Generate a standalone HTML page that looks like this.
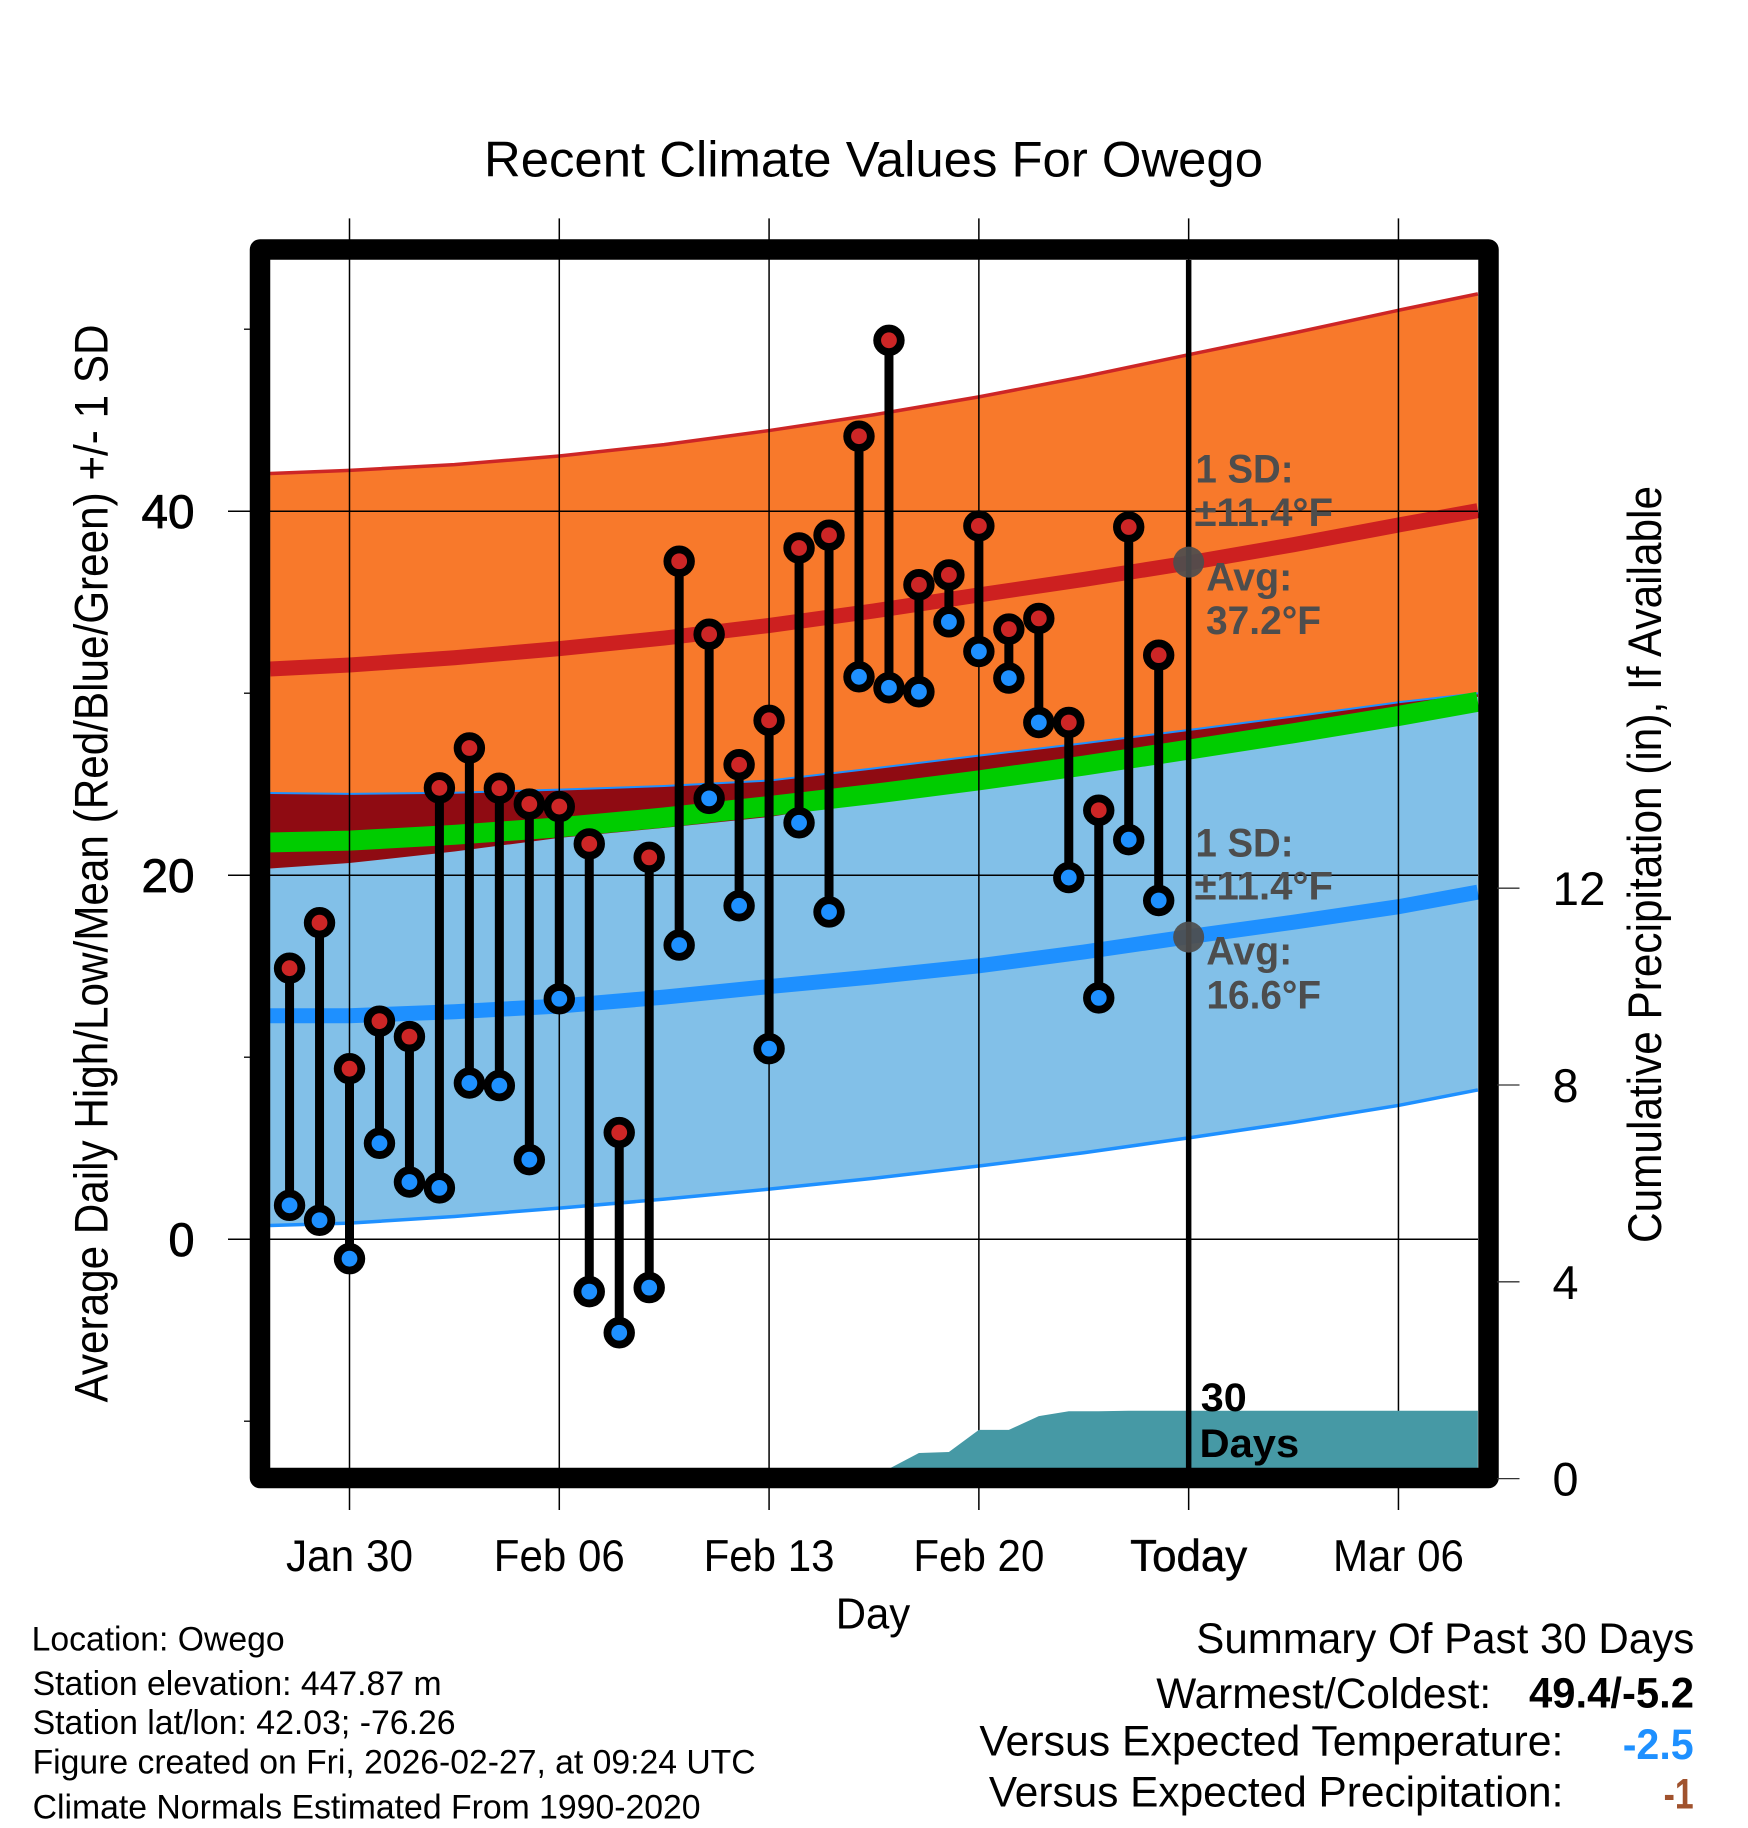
<!DOCTYPE html>
<html lang="en">
<head>
<meta charset="utf-8">
<title>Recent Climate Values For Owego</title>
<style>
html,body{margin:0;padding:0;background:#fff;}
svg{display:block;}
text{font-family:"Liberation Sans",Arial,sans-serif;fill:#000;}
.b{font-weight:bold;}
.g{font-weight:bold;fill:#4d4d4d;font-size:40px;}
</style>
</head>
<body>
<svg id="chart" xmlns="http://www.w3.org/2000/svg" width="1748" height="1828" viewBox="0 0 1748 1828">
  <rect width="1748" height="1828" fill="#fff"/>
  <g id="fills"></g>
  <g id="grid"></g>
  <g id="precip"></g>
  <g id="obs"></g>
  <g id="today"></g>
  <rect x="260" y="249.5" width="1228.5" height="1228.5" fill="none" stroke="#000" stroke-width="20.5" stroke-linejoin="round"/>
  <g id="axes"></g>

  <text x="873.5" y="176.5" text-anchor="middle" font-size="50" textLength="779" lengthAdjust="spacingAndGlyphs">Recent Climate Values For Owego</text>
  <text transform="translate(107.6,863.5) rotate(-90)" text-anchor="middle" font-size="47" textLength="1078" lengthAdjust="spacingAndGlyphs">Average Daily High/Low/Mean (Red/Blue/Green) +/- 1 SD</text>
  <text transform="translate(1661,864.5) rotate(-90)" text-anchor="middle" font-size="47" textLength="757" lengthAdjust="spacingAndGlyphs">Cumulative Precipitation (in), If Available</text>
  <text x="873" y="1628.5" text-anchor="middle" font-size="44" textLength="74.5" lengthAdjust="spacingAndGlyphs">Day</text>

  <text class="g" x="1195.5" y="482.7" textLength="98" lengthAdjust="spacingAndGlyphs">1 SD:</text>
  <text class="g" x="1194.5" y="526" textLength="138.5" lengthAdjust="spacingAndGlyphs">±11.4°F</text>
  <text class="g" x="1206.3" y="590.5" textLength="86" lengthAdjust="spacingAndGlyphs">Avg:</text>
  <text class="g" x="1206" y="634" textLength="115" lengthAdjust="spacingAndGlyphs">37.2°F</text>
  <text class="g" x="1195.5" y="856.7" textLength="98" lengthAdjust="spacingAndGlyphs">1 SD:</text>
  <text class="g" x="1194.5" y="899.4" textLength="138.5" lengthAdjust="spacingAndGlyphs">±11.4°F</text>
  <text class="g" x="1206.3" y="964.5" textLength="86" lengthAdjust="spacingAndGlyphs">Avg:</text>
  <text class="g" x="1206.5" y="1008.4" textLength="114.5" lengthAdjust="spacingAndGlyphs">16.6°F</text>
  <text class="b" x="1200.8" y="1410.8" font-size="40" textLength="46" lengthAdjust="spacingAndGlyphs">30</text>
  <text class="b" x="1199.5" y="1457" font-size="40" textLength="99.7" lengthAdjust="spacingAndGlyphs">Days</text>

  <g font-size="34">
    <text x="31.6" y="1650.7" textLength="253" lengthAdjust="spacingAndGlyphs">Location: Owego</text>
    <text x="32.6" y="1695" textLength="409" lengthAdjust="spacingAndGlyphs">Station elevation: 447.87 m</text>
    <text x="32.6" y="1734" textLength="423" lengthAdjust="spacingAndGlyphs">Station lat/lon: 42.03; -76.26</text>
    <text x="32.6" y="1773.3" textLength="723" lengthAdjust="spacingAndGlyphs">Figure created on Fri, 2026-02-27, at 09:24 UTC</text>
    <text x="32.6" y="1818.3" textLength="668" lengthAdjust="spacingAndGlyphs">Climate Normals Estimated From 1990-2020</text>
  </g>
  <g font-size="43">
    <text x="1196.3" y="1653" textLength="498" lengthAdjust="spacingAndGlyphs">Summary Of Past 30 Days</text>
    <text x="1156.2" y="1708" textLength="335" lengthAdjust="spacingAndGlyphs">Warmest/Coldest:</text>
    <text class="b" x="1529" y="1707.5" textLength="165" lengthAdjust="spacingAndGlyphs">49.4/-5.2</text>
    <text x="979.4" y="1755.3" textLength="584" lengthAdjust="spacingAndGlyphs">Versus Expected Temperature:</text>
    <text class="b" x="1622.7" y="1759" textLength="71" lengthAdjust="spacingAndGlyphs" style="fill:#1e90ff">-2.5</text>
    <text x="988.9" y="1806.3" textLength="574.5" lengthAdjust="spacingAndGlyphs">Versus Expected Precipitation:</text>
    <text class="b" x="1663.6" y="1808.5" textLength="30" lengthAdjust="spacingAndGlyphs" style="fill:#a0522d">-1</text>
  </g>
</svg>
<script>
// Observed daily values (days counted from Jan 30)
const obsDays = [-2,-1,0,1,2,3,4,5,6,7,8,9,10,11,12,13,14,15,16,17,18,19,20,21,22,23,24,25,26,27];
const obsHigh = [14.89,17.39,9.37,11.98,11.13,24.8,26.99,24.78,23.91,23.77,21.72,5.86,20.98,37.25,33.24,26.07,28.51,37.98,38.68,44.12,49.39,35.96,36.5,39.19,33.52,34.11,28.39,23.57,39.13,32.09];
const obsLow = [1.86,1.04,-1.07,5.27,3.14,2.82,8.58,8.44,4.37,13.21,-2.88,-5.14,-2.66,16.16,24.22,18.32,10.47,22.88,17.98,30.9,30.3,30.08,33.92,32.29,30.83,28.39,19.87,13.26,21.95,18.61];

// Climatology curves
const climDays = [-2.65,0,3.5,7,10.5,14,17.5,21,24.5,28,31.5,35,37.65];
const highPlusSd = [42.07,42.24,42.56,43.03,43.66,44.43,45.3,46.28,47.39,48.6,49.79,51.04,51.94];
const highMean = [31.33,31.55,31.95,32.45,33.03,33.72,34.52,35.4,36.25,37.16,38.16,39.24,40.03];
const highMinusSd = [20.37,20.67,21.3,22.05,22.6,23.2,24.1,25.0,25.9,26.8,27.95,29.1,29.8];
const lowPlusSd = [24.52,24.47,24.53,24.7,24.9,25.2,25.87,26.57,27.25,27.98,28.72,29.5,30.0];
const lowMean = [12.28,12.28,12.5,12.81,13.3,13.88,14.42,15.02,15.78,16.62,17.42,18.27,19.07];
const lowMinusSd = [0.75,0.88,1.25,1.71,2.2,2.75,3.35,4.02,4.75,5.57,6.42,7.35,8.2];
const midMean = [21.8,21.9,22.22,22.63,23.17,23.8,24.47,25.21,26.02,26.9,27.8,28.75,29.53];

// Cumulative precipitation
const precipDays = [17,18,19,20,21,22,23,24,25,26,27,37.65];
const precipTotals = [0,0.2,0.52,0.54,0.99,0.99,1.27,1.37,1.37,1.38,1.38,1.38];

// Today's mean markers
const todayDay = 28;
const todayHighMean = 37.2;
const todayLowMean = 16.6;

// Tick labels
const xTickDays = [0,7,14,21,28,35];
const xTickLabels = ['Jan 30','Feb 06','Feb 13','Feb 20','Today','Mar 06'];
const yMajorTicks = [0,20,40];
const yMinorTicks = [-10,10,30,50];
const precipTicks = [0,4,8,12];

function xScale(d){return 349.5+29.97*d;}
function yScale(v){return 1239.2-18.2*v;}
function precipScale(p){return 1478.6-49.2*p;}

const NS='http://www.w3.org/2000/svg';
function mk(parent,tag,attrs){
  const el=document.createElementNS(NS,tag);
  for(const k in attrs){el.setAttribute(k,attrs[k]);}
  parent.appendChild(el);
  return el;
}
function linePts(days,vals){return days.map(function(d,i){return xScale(d).toFixed(2)+','+yScale(vals[i]).toFixed(2);});}
function bandPts(days,top,bottom){return linePts(days,top).concat(linePts(days,bottom).reverse()).join(' ');}

const fills=document.getElementById('fills');
let el;
el=mk(fills,'polygon',{points:bandPts(climDays,highPlusSd,highMinusSd),fill:'#f8792b'});


el=mk(fills,'polygon',{points:bandPts(climDays,lowPlusSd,lowMinusSd),fill:'#82c0e8'});


el=mk(fills,'polygon',{points:bandPts(climDays,lowPlusSd,highMinusSd),fill:'#8f0b12'});


el=mk(fills,'polyline',{points:linePts(climDays,highPlusSd).join(' '),fill:'none',stroke:'#cd2626',"stroke-width":3.5});


el=mk(fills,'polyline',{points:linePts(climDays,lowPlusSd).join(' '),fill:'none',stroke:'#1e90ff',"stroke-width":2});


el=mk(fills,'polyline',{points:linePts(climDays,lowMinusSd).join(' '),fill:'none',stroke:'#1e90ff',"stroke-width":3.5});


el=mk(fills,'polyline',{points:linePts(climDays,midMean).join(' '),fill:'none',stroke:'#00cc00',"stroke-width":20});


el=mk(fills,'polyline',{points:linePts(climDays,highMean).join(' '),fill:'none',stroke:'#cd2020',"stroke-width":15});


el=mk(fills,'polyline',{points:linePts(climDays,lowMean).join(' '),fill:'none',stroke:'#1e90ff',"stroke-width":15});



const grid=document.getElementById('grid');
xTickDays.forEach(function(d){
  const l=mk(grid,'line',{x1:xScale(d),x2:xScale(d),y1:218.4,y2:1510,stroke:'#000',"stroke-width":1.5});
  
  
});
yMajorTicks.forEach(function(v){
  const l=mk(grid,'line',{x1:228,x2:1478,y1:yScale(v),y2:yScale(v),stroke:'#000',"stroke-width":1.5});
  
  
});

const precip=document.getElementById('precip');
const precipPts=precipDays.map(function(d,i){return xScale(d).toFixed(2)+','+precipScale(precipTotals[i]).toFixed(2);});
precipPts.push(xScale(precipDays[precipDays.length-1]).toFixed(2)+','+precipScale(0));
precipPts.push(xScale(precipDays[0]).toFixed(2)+','+precipScale(0));
el=mk(precip,'polygon',{points:precipPts.join(' '),fill:'#4699a5'});



const obs=document.getElementById('obs');
obsDays.forEach(function(d,i){
  const s=mk(obs,'line',{x1:xScale(d),x2:xScale(d),y1:yScale(obsHigh[i]),y2:yScale(obsLow[i]),stroke:'#000',"stroke-width":9});
  
  
});
obsDays.forEach(function(d,i){
  const hi=mk(obs,'circle',{cx:xScale(d),cy:yScale(obsHigh[i]),r:11.8,fill:'#cd2626',stroke:'#000',"stroke-width":7.8});
  
  
  const lo=mk(obs,'circle',{cx:xScale(d),cy:yScale(obsLow[i]),r:11.8,fill:'#1e90ff',stroke:'#000',"stroke-width":7.8});
  
  
});

const today=document.getElementById('today');
el=mk(today,'line',{x1:xScale(todayDay),x2:xScale(todayDay),y1:260,y2:1468,stroke:'#000',"stroke-width":5.5});


el=mk(today,'circle',{cx:xScale(todayDay),cy:yScale(todayHighMean),r:15.5,fill:'#4d4d4d',"fill-opacity":0.93});


el=mk(today,'circle',{cx:xScale(todayDay),cy:yScale(todayLowMean),r:15.5,fill:'#4d4d4d',"fill-opacity":0.93});



const axes=document.getElementById('axes');
function label(str,x,y,anchor,size,w,stroke){
  const t=mk(axes,'text',{x:x,y:y,"text-anchor":anchor,"font-size":size,textLength:w,lengthAdjust:'spacingAndGlyphs'});
  if(stroke){t.setAttribute('style','stroke:#000;stroke-width:'+stroke+'px');}
  t.textContent=str;
  return t;
}
xTickDays.forEach(function(d,i){
  const w=xTickLabels[i]==='Today'?117:(xTickLabels[i]==='Jan 30'?127:131);
  const t=label(xTickLabels[i],xScale(d),1571,'middle',44.5,w,xTickLabels[i]==='Today'?0.5:0);
  
  
});
yMajorTicks.forEach(function(v){
  const t=label(String(v),194.5,yScale(v)+17,'end',47,v===0?26:53,0.8);
  
  
});
yMinorTicks.forEach(function(v){
  const l=mk(axes,'line',{x1:244,x2:251,y1:yScale(v),y2:yScale(v),stroke:'#000',"stroke-width":1.3});
  
  
});
precipTicks.forEach(function(p){
  const l=mk(axes,'line',{x1:1497,x2:1519.5,y1:precipScale(p),y2:precipScale(p),stroke:'#333',"stroke-width":1.3});
  
  
  const t=label(String(p),1552.5,precipScale(p)+17,'start',47,p===12?53:26,0);
  
  
});
</script>
</body>
</html>
